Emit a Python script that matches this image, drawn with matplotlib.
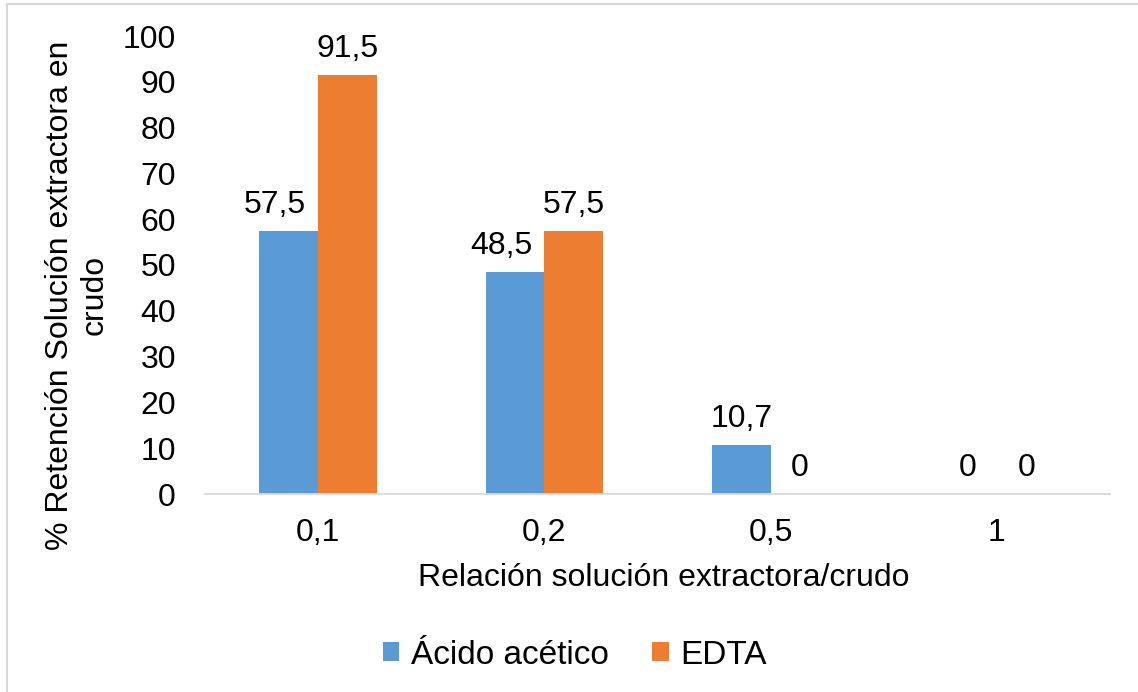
import matplotlib
matplotlib.use('Agg')
import matplotlib.pyplot as plt
from matplotlib.lines import Line2D
import numpy as np

plt.rcParams['font.family'] = ['Liberation Sans', 'DejaVu Sans']

categories = ['0,1', '0,2', '0,5', '1']
acido = [57.5, 48.5, 10.7, 0]
edta = [91.5, 57.5, 0, 0]
acido_labels = ['57,5', '48,5', '10,7', '0']
edta_labels = ['91,5', '57,5', '0', '0']

blue = '#5B9BD5'
orange = '#ED7D31'
fs = 23

W, H = 1138, 692
fig = plt.figure(figsize=(W / 100, H / 100), dpi=100)
ax = fig.add_axes([205 / W, 1 - 494 / H, (1110 - 205) / W, (494 - 36) / H])

x = np.arange(len(categories))
bw = 0.26
b1 = ax.bar(x - bw / 2, acido, bw, color=blue, label='Ácido acético')
b2 = ax.bar(x + bw / 2, edta, bw, color=orange, label='EDTA')

# labels above bars; blue label nudged left when the orange bar beside it is taller
for i in range(len(categories)):
    for r, t, other in ((b1[i], acido_labels[i], edta[i]), (b2[i], edta_labels[i], None)):
        dx = -10 if (other is not None and other > r.get_height()) else 0
        ax.annotate(t, (r.get_x() + r.get_width() / 2, r.get_height()),
                    xytext=(dx, 8), textcoords='offset points',
                    ha='center', va='bottom', fontsize=fs)

ax.set_xlim(-0.5, len(categories) - 0.5)
ax.set_ylim(0, 100)
ax.set_yticks(range(0, 101, 10))
ax.set_xticks(x)
ax.set_xticklabels(categories)
ax.tick_params(axis='both', length=0, labelsize=fs)
ax.tick_params(axis='x', pad=17)
ax.tick_params(axis='y', pad=21)
for s in ['top', 'right', 'left']:
    ax.spines[s].set_visible(False)
ax.spines['bottom'].set_color('#D9D9D9')
ax.spines['bottom'].set_linewidth(1.3)

fig.text(664 / W, 1 - 578 / H, 'Relación solución extractora/crudo',
         ha='center', va='center', fontsize=fs)
fig.text(77 / W, 1 - 295 / H, '% Retención Solución extractora en\ncrudo',
         ha='center', va='center', rotation=90, fontsize=fs, linespacing=1.2)

fig.legend(loc='center', bbox_to_anchor=(575 / W, 1 - 655 / H), ncol=2,
           frameon=False, fontsize=fs + 1, handlelength=0.5, handleheight=0.5,
           handletextpad=0.35, columnspacing=1.3)

# chart border
fig.add_artist(Line2D([7 / W, 7 / W], [0, 1 - 4 / H], color='#D9D9D9', lw=1.5))
fig.add_artist(Line2D([7 / W, 1], [1 - 4 / H, 1 - 4 / H], color='#D9D9D9', lw=1.5))

fig.savefig('out.png', dpi=100)
